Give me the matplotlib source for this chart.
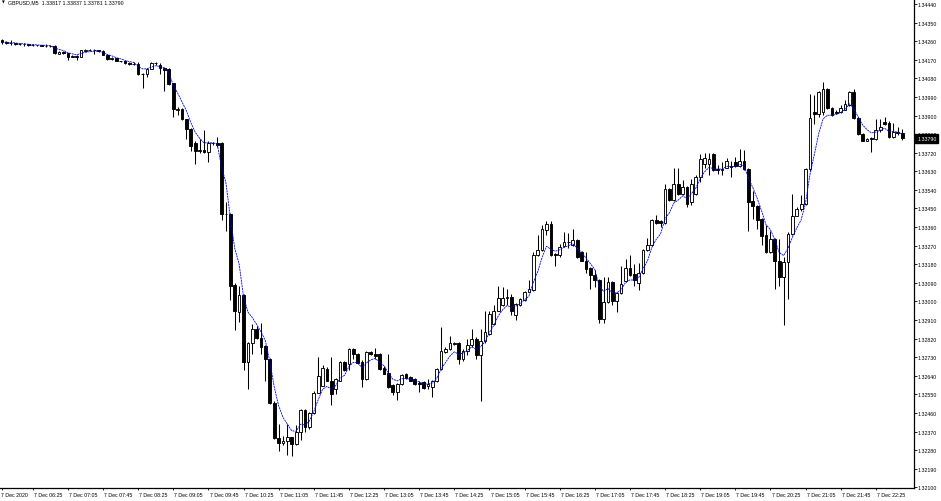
import matplotlib
matplotlib.use('Agg')
import matplotlib.pyplot as plt
import matplotlib.transforms as mtransforms
import numpy as np
import pandas as pd

plt.rcParams['font.family'] = ['Liberation Sans', 'DejaVu Sans']

# GBPUSD M5, 7 Dec 2020, first bar 05:50
opens = [1.34266, 1.34256, 1.34253, 1.34251, 1.34246, 1.34244, 1.34244, 1.34241, 1.34239, 1.34239,
         1.34238, 1.34238, 1.34236, 1.34200, 1.34207, 1.34203, 1.34183, 1.34188, 1.34183, 1.34212,
         1.34217, 1.34215, 1.34215, 1.34212, 1.34195, 1.34174, 1.34176, 1.34164, 1.34162, 1.34152,
         1.34149, 1.34147, 1.34099, 1.34103, 1.34125, 1.34152, 1.34145, 1.34130, 1.34123, 1.34055,
         1.33927, 1.33932, 1.33881, 1.33835, 1.33767, 1.33726, 1.33731, 1.33723, 1.33769, 1.33769,
         1.33769, 1.33423, 1.33421, 1.33080, 1.32951, 1.33029, 1.32709, 1.32799, 1.32867, 1.32823,
         1.32782, 1.32722, 1.32509, 1.32339, 1.32315, 1.32325, 1.32342, 1.32308, 1.32368, 1.32475,
         1.32392, 1.32460, 1.32559, 1.32593, 1.32673, 1.32613, 1.32576, 1.32617, 1.32705, 1.32697,
         1.32770, 1.32746, 1.32709, 1.32625, 1.32753, 1.32746, 1.32746, 1.32680, 1.32654, 1.32596,
         1.32564, 1.32601, 1.32649, 1.32632, 1.32625, 1.32605, 1.32608, 1.32591, 1.32586, 1.32613,
         1.32673, 1.32755, 1.32770, 1.32794, 1.32797, 1.32722, 1.32760, 1.32789, 1.32818, 1.32741,
         1.32809, 1.32843, 1.32891, 1.32956, 1.32983, 1.33019, 1.33022, 1.32932, 1.32981, 1.33005,
         1.33048, 1.33053, 1.33223, 1.33247, 1.33348, 1.33375, 1.33230, 1.33225, 1.33266, 1.33286,
         1.33271, 1.33298, 1.33237, 1.33198, 1.33160, 1.33126, 1.33102, 1.32915, 1.32995, 1.33092,
         1.33000, 1.33041, 1.33097, 1.33164, 1.33133, 1.33089, 1.33138, 1.33247, 1.33271, 1.33392,
         1.33387, 1.33380, 1.33544, 1.33489, 1.33569, 1.33520, 1.33552, 1.33479, 1.33520, 1.33600,
         1.33665, 1.33665, 1.33714, 1.33641, 1.33634, 1.33648, 1.33656, 1.33673, 1.33656, 1.33682,
         1.33641, 1.33484, 1.33460, 1.33397, 1.33322, 1.33237, 1.33302, 1.33198, 1.33116, 1.33191,
         1.33327, 1.33416, 1.33448, 1.33472, 1.33641, 1.33917, 1.33907, 1.33917, 1.34028, 1.33934,
         1.33917, 1.33915, 1.33929, 1.33949, 1.34016, 1.33886, 1.33811, 1.33779, 1.33789, 1.33784,
         1.33828, 1.33871, 1.33866, 1.33794, 1.33818, 1.33817]
highs = [1.34270, 1.34261, 1.34266, 1.34251, 1.34251, 1.34251, 1.34246, 1.34246, 1.34241, 1.34241,
         1.34246, 1.34241, 1.34239, 1.34212, 1.34210, 1.34203, 1.34193, 1.34193, 1.34217, 1.34224,
         1.34220, 1.34220, 1.34217, 1.34215, 1.34198, 1.34183, 1.34178, 1.34166, 1.34164, 1.34157,
         1.34157, 1.34157, 1.34108, 1.34128, 1.34157, 1.34159, 1.34154, 1.34132, 1.34128, 1.34057,
         1.33941, 1.33936, 1.33883, 1.33840, 1.33777, 1.33786, 1.33828, 1.33777, 1.33774, 1.33796,
         1.33774, 1.33481, 1.33428, 1.33089, 1.33077, 1.33036, 1.32804, 1.32891, 1.32881, 1.32896,
         1.32789, 1.32726, 1.32518, 1.32407, 1.32351, 1.32407, 1.32344, 1.32400, 1.32480, 1.32480,
         1.32465, 1.32567, 1.32729, 1.32690, 1.32683, 1.32729, 1.32630, 1.32712, 1.32712, 1.32775,
         1.32777, 1.32751, 1.32717, 1.32760, 1.32758, 1.32777, 1.32751, 1.32688, 1.32746, 1.32601,
         1.32605, 1.32649, 1.32654, 1.32639, 1.32630, 1.32615, 1.32615, 1.32625, 1.32620, 1.32680,
         1.32874, 1.32780, 1.32835, 1.32804, 1.32804, 1.32770, 1.32818, 1.32867, 1.32828, 1.32867,
         1.32954, 1.32956, 1.32981, 1.33077, 1.33072, 1.33060, 1.33036, 1.32993, 1.33017, 1.33051,
         1.33102, 1.33237, 1.33322, 1.33370, 1.33387, 1.33387, 1.33235, 1.33278, 1.33334, 1.33331,
         1.33353, 1.33302, 1.33244, 1.33237, 1.33167, 1.33150, 1.33109, 1.33116, 1.33116, 1.33099,
         1.33046, 1.33174, 1.33206, 1.33223, 1.33181, 1.33186, 1.33254, 1.33305, 1.33399, 1.33419,
         1.33394, 1.33569, 1.33549, 1.33648, 1.33648, 1.33590, 1.33559, 1.33595, 1.33610, 1.33714,
         1.33719, 1.33719, 1.33719, 1.33661, 1.33673, 1.33692, 1.33682, 1.33697, 1.33736, 1.33731,
         1.33646, 1.33537, 1.33467, 1.33404, 1.33368, 1.33343, 1.33307, 1.33302, 1.33215, 1.33336,
         1.33520, 1.33457, 1.33513, 1.33646, 1.34004, 1.33999, 1.34019, 1.34060, 1.34033, 1.33941,
         1.33927, 1.33949, 1.33973, 1.34021, 1.34028, 1.33893, 1.33815, 1.33791, 1.33796, 1.33881,
         1.33883, 1.33891, 1.33874, 1.33866, 1.33845, 1.33837]
lows = [1.34246, 1.34246, 1.34241, 1.34241, 1.34241, 1.34236, 1.34236, 1.34236, 1.34236, 1.34236,
        1.34234, 1.34234, 1.34198, 1.34198, 1.34198, 1.34171, 1.34181, 1.34171, 1.34181, 1.34210,
        1.34210, 1.34198, 1.34207, 1.34193, 1.34171, 1.34169, 1.34162, 1.34159, 1.34147, 1.34145,
        1.34145, 1.34096, 1.34033, 1.34086, 1.34123, 1.34145, 1.34101, 1.34021, 1.34048, 1.33893,
        1.33903, 1.33878, 1.33786, 1.33726, 1.33665, 1.33719, 1.33719, 1.33677, 1.33757, 1.33748,
        1.33392, 1.33343, 1.33007, 1.32860, 1.32901, 1.32666, 1.32576, 1.32746, 1.32818, 1.32746,
        1.32617, 1.32504, 1.32332, 1.32276, 1.32303, 1.32257, 1.32254, 1.32303, 1.32327, 1.32368,
        1.32383, 1.32455, 1.32557, 1.32591, 1.32615, 1.32497, 1.32552, 1.32615, 1.32664, 1.32666,
        1.32722, 1.32697, 1.32586, 1.32620, 1.32741, 1.32722, 1.32668, 1.32649, 1.32581, 1.32545,
        1.32521, 1.32596, 1.32625, 1.32615, 1.32596, 1.32562, 1.32576, 1.32576, 1.32538, 1.32610,
        1.32668, 1.32751, 1.32765, 1.32789, 1.32697, 1.32712, 1.32741, 1.32780, 1.32722, 1.32518,
        1.32799, 1.32838, 1.32886, 1.32954, 1.32978, 1.32981, 1.32932, 1.32908, 1.32978, 1.33002,
        1.33046, 1.33051, 1.33220, 1.33244, 1.33322, 1.33220, 1.33174, 1.33215, 1.33264, 1.33259,
        1.33268, 1.33210, 1.33196, 1.33138, 1.33060, 1.33072, 1.32898, 1.32896, 1.32993, 1.32981,
        1.32947, 1.33036, 1.33094, 1.33123, 1.33077, 1.33053, 1.33133, 1.33244, 1.33268, 1.33375,
        1.33358, 1.33376, 1.33486, 1.33486, 1.33515, 1.33515, 1.33455, 1.33467, 1.33515, 1.33578,
        1.33648, 1.33610, 1.33632, 1.33617, 1.33610, 1.33646, 1.33602, 1.33651, 1.33651, 1.33636,
        1.33339, 1.33399, 1.33351, 1.33271, 1.33235, 1.33235, 1.33060, 1.33077, 1.32886, 1.33012,
        1.33322, 1.33414, 1.33438, 1.33466, 1.33632, 1.33859, 1.33893, 1.33903, 1.33932, 1.33898,
        1.33907, 1.33912, 1.33927, 1.33946, 1.33883, 1.33806, 1.33777, 1.33775, 1.33721, 1.33782,
        1.33818, 1.33854, 1.33791, 1.33790, 1.33806, 1.33781]
closes = [1.34256, 1.34253, 1.34251, 1.34246, 1.34244, 1.34244, 1.34241, 1.34239, 1.34239, 1.34238,
          1.34238, 1.34236, 1.34203, 1.34207, 1.34203, 1.34183, 1.34188, 1.34183, 1.34215, 1.34217,
          1.34215, 1.34215, 1.34212, 1.34195, 1.34174, 1.34176, 1.34164, 1.34162, 1.34152, 1.34149,
          1.34149, 1.34099, 1.34103, 1.34125, 1.34152, 1.34154, 1.34130, 1.34120, 1.34053, 1.33932,
          1.33932, 1.33881, 1.33835, 1.33753, 1.33726, 1.33731, 1.33723, 1.33769, 1.33767, 1.33757,
          1.33423, 1.33421, 1.33075, 1.32956, 1.33031, 1.32709, 1.32799, 1.32867, 1.32823, 1.32780,
          1.32722, 1.32509, 1.32339, 1.32315, 1.32325, 1.32342, 1.32308, 1.32368, 1.32475, 1.32392,
          1.32460, 1.32559, 1.32637, 1.32676, 1.32617, 1.32552, 1.32625, 1.32705, 1.32666, 1.32770,
          1.32746, 1.32702, 1.32625, 1.32753, 1.32746, 1.32738, 1.32673, 1.32651, 1.32586, 1.32562,
          1.32601, 1.32644, 1.32630, 1.32617, 1.32601, 1.32601, 1.32581, 1.32598, 1.32615, 1.32673,
          1.32760, 1.32770, 1.32797, 1.32797, 1.32722, 1.32760, 1.32789, 1.32818, 1.32741, 1.32809,
          1.32852, 1.32939, 1.32954, 1.33019, 1.33019, 1.33022, 1.32956, 1.32988, 1.33012, 1.33046,
          1.33060, 1.33225, 1.33247, 1.33351, 1.33375, 1.33225, 1.33223, 1.33264, 1.33286, 1.33286,
          1.33298, 1.33215, 1.33198, 1.33155, 1.33126, 1.33102, 1.32915, 1.32995, 1.33092, 1.33000,
          1.33041, 1.33085, 1.33164, 1.33128, 1.33102, 1.33138, 1.33247, 1.33271, 1.33392, 1.33380,
          1.33380, 1.33544, 1.33489, 1.33569, 1.33520, 1.33552, 1.33472, 1.33569, 1.33600, 1.33690,
          1.33692, 1.33690, 1.33634, 1.33634, 1.33641, 1.33682, 1.33651, 1.33656, 1.33682, 1.33641,
          1.33479, 1.33460, 1.33392, 1.33319, 1.33237, 1.33302, 1.33198, 1.33116, 1.33191, 1.33327,
          1.33416, 1.33448, 1.33472, 1.33641, 1.33886, 1.33907, 1.34014, 1.34028, 1.33936, 1.33903,
          1.33912, 1.33934, 1.33956, 1.34012, 1.33886, 1.33811, 1.33779, 1.33786, 1.33784, 1.33828,
          1.33845, 1.33859, 1.33794, 1.33818, 1.33817, 1.33790]

time_labels = ['7 Dec 2020', '7 Dec 06:25', '7 Dec 07:05', '7 Dec 07:45', '7 Dec 08:25', '7 Dec 09:05',
               '7 Dec 09:45', '7 Dec 10:25', '7 Dec 11:05', '7 Dec 11:45', '7 Dec 12:25', '7 Dec 13:05',
               '7 Dec 13:45', '7 Dec 14:25', '7 Dec 15:05', '7 Dec 15:45', '7 Dec 16:25', '7 Dec 17:05',
               '7 Dec 17:45', '7 Dec 18:25', '7 Dec 19:05', '7 Dec 19:45', '7 Dec 20:25', '7 Dec 21:05',
               '7 Dec 21:45', '7 Dec 22:25']
header = 'GBPUSD,M5  1.33817 1.33837 1.33781 1.33790'
last_price = 1.33790

o = np.array(opens)
h = np.array(highs)
l = np.array(lows)
c = np.array(closes)
x = np.arange(len(c))
up = c >= o

fig = plt.figure(figsize=(9.41, 5.02), dpi=100)
ax = fig.add_axes([0, 13 / 502, 914 / 941, 489 / 502])

ax.vlines(x, l, h, color='black', linewidth=0.75, zorder=2)
bottom = np.minimum(o, c)
height = np.abs(c - o)
ax.bar(x[up], height[up], bottom=bottom[up], width=0.62, facecolor='white',
       edgecolor='black', linewidth=0.65, zorder=3)
ax.bar(x[~up], height[~up], bottom=bottom[~up], width=0.62, facecolor='black',
       edgecolor='black', linewidth=0.65, zorder=3)

# moving average on close
ma = pd.Series(c).ewm(span=5, adjust=False).mean()
ax.plot(x, ma, color='#0000ff', linewidth=0.6, linestyle=(0, (2.5, 0.8)), zorder=4)

ax.set_xlim(-0.456, 207.7)
ax.set_ylim(1.32097, 1.34464)
ax.spines['top'].set_visible(False)
ax.spines['left'].set_visible(False)
ax.spines['right'].set_linewidth(0.9)
ax.spines['bottom'].set_linewidth(0.9)

yt = np.round(np.arange(1.32100, 1.34441, 0.0009), 5)
ax.yaxis.tick_right()
ax.set_yticks(yt)
ax.set_yticklabels([f'{v:.5f}' for v in yt])
ax.tick_params(axis='y', direction='out', length=1.8, width=0.6, pad=1, labelsize=3.8)

xt = [0] + [7 + 8 * k for k in range(len(time_labels) - 1)]
ax.set_xticks(xt)
ax.set_xticklabels(time_labels)
ax.tick_params(axis='x', direction='out', length=1.5, width=0.6, pad=1.2, labelsize=3.8)
for i, lab in enumerate(ax.get_xticklabels()):
    lab.set_horizontalalignment('left')
    dx = -0.012 if i == 0 else 0.012
    lab.set_transform(lab.get_transform() + mtransforms.ScaledTranslation(dx, 0, fig.dpi_scale_trans))

ax.text(1.0035, last_price, f'{last_price:.5f}', transform=ax.get_yaxis_transform(),
        ha='left', va='center', color='white', fontsize=3.8, zorder=6, clip_on=False,
        bbox=dict(boxstyle='square,pad=0.35', facecolor='black', edgecolor='black'))

fig.text(2 / 941, 1 - 0.5 / 502, '\u25bc', fontsize=2.6, family='DejaVu Sans', va='top', ha='left')
fig.text(8 / 941, 1 - 0.5 / 502, header, fontsize=3.8, va='top', ha='left')

fig.savefig('out.png', dpi=100)
